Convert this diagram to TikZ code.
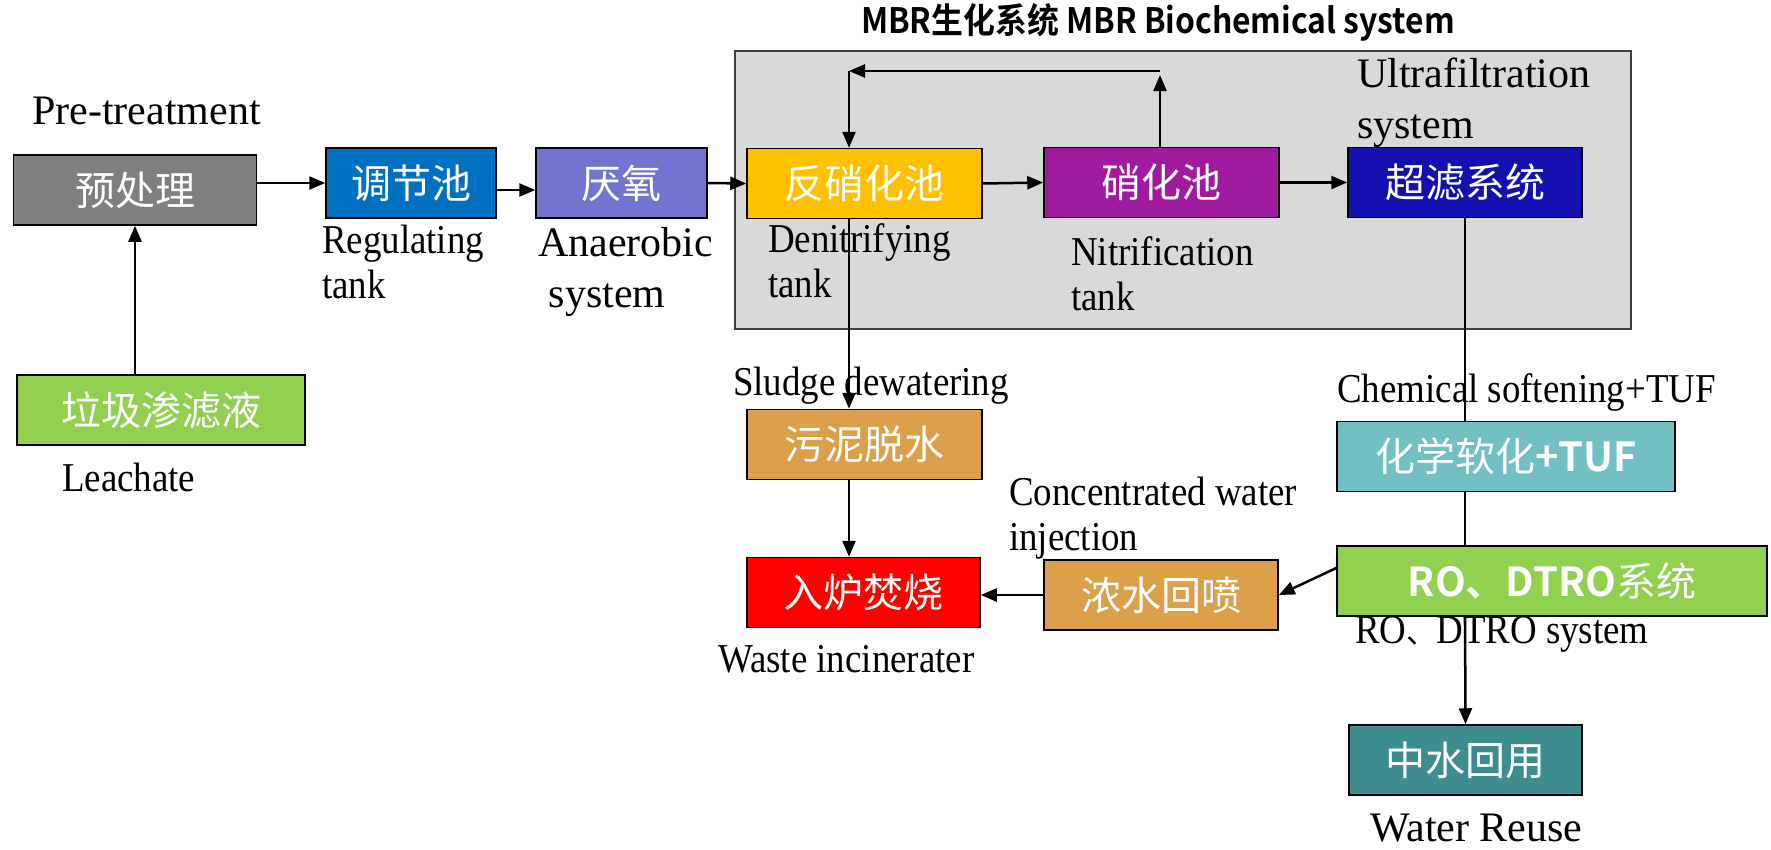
\documentclass[tikz,border=0pt]{standalone}
\usepackage{fontspec}
\setmainfont{Liberation Serif}
\newfontfamily\condserif[FakeStretch=0.9]{Liberation Serif}
\newfontfamily\cjk{Noto Sans CJK SC}
\newfontfamily\cjkb{Noto Sans CJK SC Bold}
\newfontfamily\cjkbn[FakeStretch=0.91]{Noto Sans CJK SC Bold}
\usetikzlibrary{arrows.meta,calc}
\definecolor{cpre}{HTML}{7F7F7F}
\definecolor{creg}{HTML}{0070C0}
\definecolor{cana}{HTML}{7373D0}
\definecolor{cden}{HTML}{FFC000}
\definecolor{cnit}{HTML}{A01AA0}
\definecolor{cult}{HTML}{1410B0}
\definecolor{ctan}{HTML}{DDA04A}
\definecolor{cinc}{HTML}{FF0000}
\definecolor{cchem}{HTML}{72BFC4}
\definecolor{cgreen}{HTML}{92D050}
\definecolor{creuse}{HTML}{3D8C8F}
\definecolor{cmbr}{HTML}{D9D9D9}
\tikzset{
  box/.style={draw=black, line width=1.5pt, minimum height=70pt, inner sep=0pt,
    text=white, font=\cjk\fontsize{40}{44}\selectfont},
  lbl/.style={inner sep=0pt, anchor=north west, align=left,
    font=\fontsize{42}{51}\selectfont},
  clbl/.style={inner sep=0pt, anchor=north west, align=left,
    font=\condserif\fontsize{41}{45}\selectfont},
  arr/.style={line width=2.5pt, -{Triangle[length=16pt,width=13pt]}},
  ln/.style={line width=2pt},
}
\begin{document}
\begin{tikzpicture}[x=1pt,y=-1pt]
\useasboundingbox (0,0) rectangle (1771,849);
% MBR frame
\node[draw=black!75, line width=1.5pt, fill=cmbr, minimum width=896pt, minimum height=278pt, inner sep=0pt] (mbr) at (1183,190) {};
\node[font=\cjkbn\fontsize{35}{38}\selectfont] (title) at (1158,22) {MBR生化系统 MBR Biochemical system};
% boxes
\node[box, fill=cpre, minimum width=243pt] (pre) at (135,190) {预处理};
\node[box, fill=creg, minimum width=170pt] (reg) at (411,183) {调节池};
\node[box, fill=cana, minimum width=171pt] (ana) at (621.5,183) {厌氧};
\node[box, fill=cden, minimum width=235pt] (den) at (864.5,183.5) {反硝化池};
\node[box, fill=cnit, minimum width=235pt] (nit) at (1161.5,182.5) {硝化池};
\node[box, fill=cult, minimum width=234pt] (ult) at (1465,182.5) {超滤系统};
\node[box, fill=ctan, minimum width=235pt] (sludge) at (864.5,444.5) {污泥脱水};
\node[box, fill=cinc, minimum width=233pt] (inc) at (863.5,592.5) {入炉焚烧};
\node[box, fill=ctan, minimum width=234pt] (conc) at (1161,595) {浓水回喷};
\node[box, fill=cchem, minimum width=338pt] (chem) at (1506,456.5) {化学软化{\cjkb +TUF}};
\node[box, fill=cgreen, minimum width=430pt] (ro) at (1552,581) {{\cjkb RO、DTRO}系统};
\node[box, fill=creuse, minimum width=233pt] (reuse) at (1465.5,760) {中水回用};
\node[box, fill=cgreen, minimum width=288pt] (leach) at (161,410) {垃圾渗滤液};
% labels
\node[lbl] (lpre) at (32,97) {Pre-treatment};
\node[clbl] (lreg) at (322,225) {Regulating\\tank};
\node[lbl] (lana) at (538,227) {Anaerobic\\\ system};
\node[lbl] (lult) at (1357,58) {Ultrafiltration\\system};
\node[clbl] (lden) at (768,223) {Denitrifying\\tank};
\node[clbl] (lnit) at (1071,236) {Nitrification\\tank};
\node[clbl] (lsl) at (733,367) {Sludge dewatering};
\node[clbl] (lconc) at (1009,477) {Concentrated water\\injection};
\node[clbl] (lchem) at (1337,373) {Chemical softening+TUF};
\node[clbl] (lro) at (1355,616) {RO{\cjk\fontsize{30}{40}\selectfont 、}DTRO system};
\node[clbl] (linc) at (718,645) {Waste incinerater};
\node[clbl] (lleach) at (62,463) {Leachate};
\node[lbl] (lreuse) at (1370,814) {Water Reuse};
% connectors
\coordinate (fbR) at (1160,71);
\coordinate (fbL) at (849,71);
\draw[arr] (leach.north -| pre.south) -- (pre.south);
\draw[arr] (pre.east |- reg.west) -- (reg.west);
\draw[arr] ($(reg.east)+(0,7)$) -- ($(ana.west)+(0,7)$);
\draw[arr] (ana.east) -- (den.west);
\draw[arr] (den.east) -- (nit.west);
\draw[arr] (nit.east) -- (ult.west);
\draw[arr] (nit.north -| fbR) -- ($(fbR)+(0,4)$);
\draw[arr] (fbR) -- (fbL);
\draw[arr] (fbL) -- (fbL |- den.north);
\draw[arr] (fbL |- den.south) -- (fbL |- sludge.north);
\draw[arr] (fbL |- sludge.south) -- (fbL |- inc.north);
\draw[arr] (conc.west) -- (inc.east |- conc.west);
\draw[arr] ($(ro.west)+(0,-13)$) -- (conc.east);
\draw[ln] (ult.south) -- (ult.south |- chem.north);
\draw[ln] (ult.south |- chem.south) -- (ult.south |- ro.north);
\draw[arr] (ult.south |- ro.south) -- (reuse.north);
\end{tikzpicture}
\end{document}
